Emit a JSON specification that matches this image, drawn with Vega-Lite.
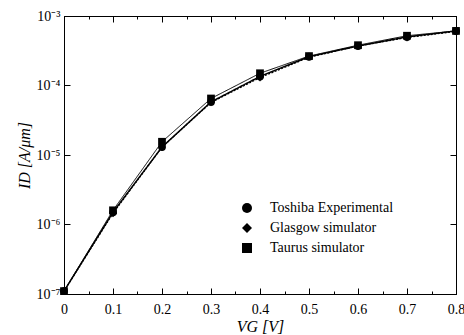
{
  "$schema": "https://vega.github.io/schema/vega-lite/v6.json",
  "width": 392,
  "height": 278,
  "autosize": "none",
  "padding": {"left": 64, "top": 16, "right": 8, "bottom": 41},
  "background": "white",
  "config": {
    "view": {"stroke": "black", "strokeWidth": 1},
    "font": "Liberation Serif",
    "axis": {"domainColor": "black", "tickColor": "black", "labelColor": "black", "titleColor": "black", "grid": false, "labelFont": "Liberation Serif", "titleFont": "Liberation Serif", "labelFontSize": 14, "titleFontSize": 16, "titleFontWeight": "normal"},
    "legend": {"title": null, "orient": "none", "legendX": 176, "legendY": 185, "labelFontSize": 14, "labelFont": "Liberation Serif", "labelColor": "black", "labelOffset": 16, "rowPadding": 4, "symbolSize": 100}
  },
  "data": {"values": [
    {"series": "Toshiba Experimental", "vg": 0.0, "id": 1.1e-7},
    {"series": "Toshiba Experimental", "vg": 0.1, "id": 1.5e-6},
    {"series": "Toshiba Experimental", "vg": 0.2, "id": 1.3e-5},
    {"series": "Toshiba Experimental", "vg": 0.3, "id": 5.8e-5},
    {"series": "Toshiba Experimental", "vg": 0.4, "id": 1.35e-4},
    {"series": "Toshiba Experimental", "vg": 0.5, "id": 2.6e-4},
    {"series": "Toshiba Experimental", "vg": 0.6, "id": 3.7e-4},
    {"series": "Toshiba Experimental", "vg": 0.7, "id": 5.0e-4},
    {"series": "Toshiba Experimental", "vg": 0.8, "id": 6.1e-4},
    {"series": "Glasgow simulator", "vg": 0.0, "id": 1.1e-7},
    {"series": "Glasgow simulator", "vg": 0.1, "id": 1.45e-6},
    {"series": "Glasgow simulator", "vg": 0.2, "id": 1.3e-5},
    {"series": "Glasgow simulator", "vg": 0.3, "id": 5.7e-5},
    {"series": "Glasgow simulator", "vg": 0.4, "id": 1.3e-4},
    {"series": "Glasgow simulator", "vg": 0.5, "id": 2.55e-4},
    {"series": "Glasgow simulator", "vg": 0.6, "id": 3.7e-4},
    {"series": "Glasgow simulator", "vg": 0.7, "id": 4.9e-4},
    {"series": "Glasgow simulator", "vg": 0.8, "id": 6.0e-4},
    {"series": "Taurus simulator", "vg": 0.0, "id": 1.1e-7},
    {"series": "Taurus simulator", "vg": 0.1, "id": 1.6e-6},
    {"series": "Taurus simulator", "vg": 0.2, "id": 1.55e-5},
    {"series": "Taurus simulator", "vg": 0.3, "id": 6.5e-5},
    {"series": "Taurus simulator", "vg": 0.4, "id": 1.5e-4},
    {"series": "Taurus simulator", "vg": 0.5, "id": 2.65e-4},
    {"series": "Taurus simulator", "vg": 0.6, "id": 3.8e-4},
    {"series": "Taurus simulator", "vg": 0.7, "id": 5.2e-4},
    {"series": "Taurus simulator", "vg": 0.8, "id": 6.1e-4}
  ]},
  "layer": [
    {
      "mark": {"type": "line", "color": "black"},
      "encoding": {
        "x": {"field": "vg", "type": "quantitative", "scale": {"domain": [0, 0.8], "nice": false, "zero": false},
          "axis": {"orient": "bottom", "title": "VG [V]", "titleFontStyle": "italic", "titlePadding": -1,
            "values": [0, 0.05, 0.1, 0.15, 0.2, 0.25, 0.3, 0.35, 0.4, 0.45, 0.5, 0.55, 0.6, 0.65, 0.7, 0.75, 0.8],
            "labelExpr": "round(datum.value*100) % 10 == 0 ? format(datum.value, '.1~f') : ''",
            "tickSize": {"condition": {"test": "round(datum.value*100) % 10 == 0", "value": -6}, "value": -3},
            "labelPadding": 14, "labelFlush": false, "labelOverlap": false}},
        "y": {"field": "id", "type": "quantitative", "scale": {"type": "log", "domain": [1e-7, 1e-3], "nice": false},
          "axis": {"orient": "left", "title": "ID [A/μm]", "titleFontStyle": "italic", "titlePadding": 4,
            "values": [1e-7, 1e-6, 1e-5, 1e-4, 1e-3],
            "labelExpr": "datum.value >= 0.0009 ? '10⁻³' : datum.value >= 0.00009 ? '10⁻⁴' : datum.value >= 0.000009 ? '10⁻⁵' : datum.value >= 0.0000009 ? '10⁻⁶' : '10⁻⁷'",
            "tickSize": -6, "labelPadding": 10, "labelFlush": false}},
        "detail": {"field": "series"},
        "strokeDash": {"field": "series", "type": "nominal", "scale": {"domain": ["Toshiba Experimental", "Glasgow simulator", "Taurus simulator"], "range": [[1, 0], [2, 1.5], [1, 0]]}, "legend": null},
        "strokeWidth": {"field": "series", "type": "nominal", "scale": {"domain": ["Toshiba Experimental", "Glasgow simulator", "Taurus simulator"], "range": [1.5, 1, 1.5]}, "legend": null}
      }
    },
    {
      "mark": {"type": "point", "filled": true, "color": "black", "opacity": 1, "size": 60},
      "encoding": {
        "x": {"field": "vg", "type": "quantitative",
          "axis": {"orient": "top", "title": null, "labels": false,
            "values": [0, 0.05, 0.1, 0.15, 0.2, 0.25, 0.3, 0.35, 0.4, 0.45, 0.5, 0.55, 0.6, 0.65, 0.7, 0.75, 0.8],
            "tickSize": {"condition": {"test": "round(datum.value*100) % 10 == 0", "value": -6}, "value": -3}}},
        "y": {"field": "id", "type": "quantitative",
          "axis": {"orient": "right", "title": null, "labels": false, "values": [1e-7, 1e-6, 1e-5, 1e-4, 1e-3], "tickSize": -6}},
        "shape": {"field": "series", "type": "nominal", "scale": {"domain": ["Toshiba Experimental", "Glasgow simulator", "Taurus simulator"], "range": ["circle", "diamond", "square"]},
          "legend": {
            "encode": {"symbols": {
              "shape": {"condition": [
                {"test": "datum.value == 'Toshiba Experimental'", "value": "M-1,0 A0.18,0.18 0 1,0 -0.64,0 A0.18,0.18 0 1,0 -1,0 Z M0.64,0 A0.18,0.18 0 1,0 1,0 A0.18,0.18 0 1,0 0.64,0 Z M-0.82,0 L0.82,0"},
                {"test": "datum.value == 'Glasgow simulator'", "value": "M-1,0 L-0.9,-0.1 L-0.8,0 L-0.9,0.1 Z M0.8,0 L0.9,-0.1 L1,0 L0.9,0.1 Z M-0.9,0 L0.9,0"}
              ], "value": "M-1,-0.15 L-0.7,-0.15 L-0.7,0.15 L-1,0.15 Z M0.7,-0.15 L1,-0.15 L1,0.15 L0.7,0.15 Z M-0.85,0 L0.85,0"},
              "size": {"value": 1444},
              "fill": {"value": "black"},
              "stroke": {"value": "black"},
              "strokeWidth": {"condition": {"test": "datum.value == 'Glasgow simulator'", "value": 1}, "value": 1.5},
              "strokeDash": {"condition": {"test": "datum.value == 'Glasgow simulator'", "value": [2, 1.5]}, "value": [1, 0]},
              "opacity": {"value": 1}
            }}}}
      }
    }
  ],
  "resolve": {"axis": {"x": "independent", "y": "independent"}, "legend": {"shape": "independent", "strokeDash": "independent", "strokeWidth": "independent"}}
}
